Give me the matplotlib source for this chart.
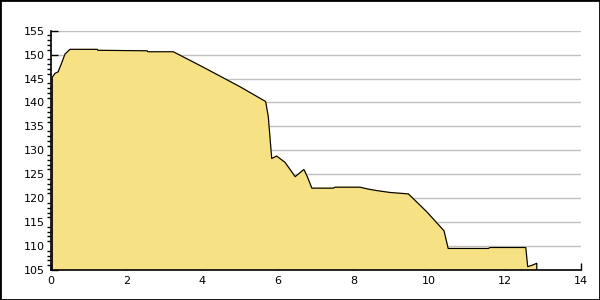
import matplotlib
matplotlib.use("Agg")
import matplotlib.pyplot as plt
from matplotlib.patches import Rectangle

# values
dist = [0.045, 0.12, 0.2, 0.29, 0.38, 0.51, 1.23, 1.25, 2.55, 2.57, 3.24,
        4.0, 5.0, 5.68, 5.75, 5.84, 5.97, 6.19, 6.46, 6.69, 6.78, 6.90,
        7.47, 7.51, 8.17, 8.39, 8.61, 8.96, 9.45, 9.93, 10.39, 10.50,
        11.56, 11.61, 12.55, 12.60, 12.72, 12.84]
elev = [145.3, 146.1, 146.4, 148.2, 150.1, 151.1, 151.1, 150.9, 150.8, 150.6, 150.6,
        147.5, 143.3, 140.2, 137.0, 128.3, 128.8, 127.5, 124.5, 126.0, 124.5, 122.1,
        122.1, 122.3, 122.3, 121.9, 121.6, 121.2, 120.9, 117.2, 113.2, 109.5,
        109.5, 109.7, 109.7, 105.7, 106.0, 106.4]
xticks = [0, 2, 4, 6, 8, 10, 12, 14]
yticks = [105, 110, 115, 120, 125, 130, 135, 140, 145, 150, 155]

fig = plt.figure(figsize=(6, 3), dpi=100)
ax = fig.add_axes([0.0843, 0.1, 0.8835, 0.7977])

xs = [dist[0]] + dist + [dist[-1]]
ys = [105] + elev + [105]
ax.fill(xs, ys, color="#f7e185", zorder=2)
ax.plot(xs, ys, color="black", lw=0.85, zorder=3)

ax.set_xlim(0, 14)
ax.set_ylim(105, 155)
ax.set_xticks(xticks)
ax.set_yticks(yticks)
ax.set_yticks(range(105, 156), minor=True)
ax.tick_params(axis="both", direction="in", labelsize=8, colors="black", width=1)
ax.tick_params(axis="x", length=5, pad=4)
ax.tick_params(axis="y", which="major", length=5, pad=4)
ax.tick_params(axis="y", which="minor", length=3, width=1)
ax.grid(axis="y", color="#c0c0c0", lw=1, zorder=1)
ax.set_axisbelow(True)
for s in ["top", "right"]:
    ax.spines[s].set_visible(False)
for s in ["left", "bottom"]:
    ax.spines[s].set_linewidth(1.2)
    ax.spines[s].set_zorder(4)

fig.patches.append(Rectangle((0, 0), 1, 1, transform=fig.transFigure,
                             fill=False, edgecolor="black", lw=2))

fig.savefig("out.png", dpi=100)
